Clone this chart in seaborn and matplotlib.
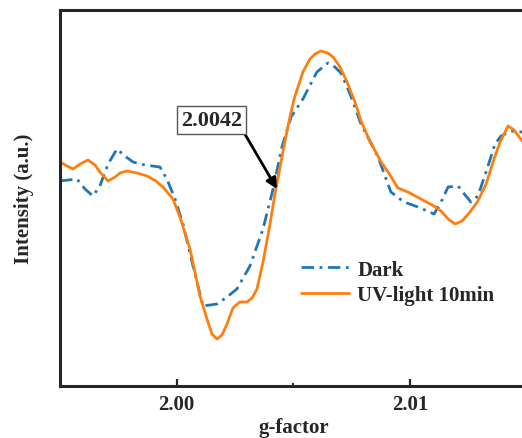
import numpy as np
import pandas as pd
import seaborn as sns
import matplotlib
matplotlib.use("Agg")
import matplotlib.pyplot as plt
from matplotlib.ticker import FixedLocator

# ---- data ----
g_uv = [1.99500, 1.99530, 1.99556, 1.99586, 1.99620, 1.99650, 1.99671, 1.99706, 1.99736, 1.99757,
        1.99787, 1.99830, 1.99873, 1.99911, 1.99941, 1.99984, 2.00014, 2.00057, 2.00100, 2.00130,
        2.00151, 2.00173, 2.00194, 2.00216, 2.00241, 2.00271, 2.00301, 2.00323, 2.00344, 2.00370,
        2.00400, 2.00421, 2.00451, 2.00477, 2.00503, 2.00541, 2.00571, 2.00593, 2.00618, 2.00648,
        2.00670, 2.00700, 2.00730, 2.00764, 2.00790, 2.00820, 2.00846, 2.00876, 2.00906, 2.00948,
        2.00991, 2.01047, 2.01103, 2.01133, 2.01163, 2.01193, 2.01223, 2.01257, 2.01291, 2.01326,
        2.01360, 2.01386, 2.01420, 2.01446, 2.01480]
i_uv = [37, 33, 30, 35, 39, 34, 27, 18, 22, 26,
        28, 26, 23, 18, 12, 0, -18, -50, -97, -120,
        -135, -140, -136, -125, -109, -103, -103, -99, -90, -63,
        -25, 5, 42, 73, 100, 127, 140, 145, 148, 146,
        142, 132, 117, 97, 78, 62, 50, 37, 27, 11,
        7, 0, -7, -12, -20, -25, -22, -13, -2, 15,
        40, 57, 73, 69, 58]

g_dark = [1.99500, 1.99573, 1.99607, 1.99641, 1.99671, 1.99706, 1.99744, 1.99778, 1.99813, 1.99864,
          1.99928, 1.99958, 1.99993, 2.00027, 2.00070, 2.00113, 2.00143, 2.00173, 2.00216, 2.00258,
          2.00314, 2.00370, 2.00413, 2.00451, 2.00490, 2.00541, 2.00601, 2.00648, 2.00678, 2.00704,
          2.00743, 2.00790, 2.00863, 2.00918, 2.00974, 2.01034, 2.01103, 2.01133, 2.01163, 2.01206,
          2.01236, 2.01261, 2.01291, 2.01330, 2.01364, 2.01390, 2.01433, 2.01480]
i_dark = [18, 20, 10, 3, 13, 35, 50, 43, 37, 34,
          32, 20, 0, -25, -67, -107, -106, -105, -98, -90,
          -67, -30, 10, 52, 82, 100, 127, 136, 132, 126,
          105, 75, 42, 7, -3, -8, -15, -3, 12, 13,
          4, -3, 3, 30, 55, 63, 68, 67]

series_names = ["Dark", "UV-light 10min"]
x_ticks = [2.00, 2.01]
x_tick_labels = ["2.00", "2.01"]
peak_label = "2.0042"
peak_g = 2.0043
peak_i = 10

df = pd.concat([
    pd.DataFrame({"g": g_dark, "I": i_dark, "sample": series_names[0]}),
    pd.DataFrame({"g": g_uv, "I": i_uv, "sample": series_names[1]}),
], ignore_index=True)

sns.set_style("ticks")
plt.rcParams["font.family"] = ["Liberation Serif", "DejaVu Serif"]
plt.rcParams["font.weight"] = "bold"
plt.rcParams["axes.labelweight"] = "bold"

fig = plt.figure(figsize=(5.22, 4.39), dpi=100)
ax = fig.add_axes([60 / 522, 1 - 387 / 439, (526.7 - 60) / 522, (387 - 11) / 439])

sns.lineplot(data=df, x="g", y="I", hue="sample", style="sample", ax=ax,
             palette={"Dark": "#1f77b4", "UV-light 10min": "#ff7f0e"},
             dashes={"Dark": (4.5, 2.0, 1.0, 2.0), "UV-light 10min": ""},
             linewidth=2.0, sort=False, estimator=None)
for ln in ax.lines:
    ln.set_solid_joinstyle("round")
    ln.set_dash_joinstyle("round")

ax.set_xlim(1.995, 2.015)
ax.set_ylim(-187, 189)
ax.xaxis.set_major_locator(FixedLocator(x_ticks))
ax.set_xticklabels(x_tick_labels, fontsize=15, fontweight="bold")
ax.xaxis.set_minor_locator(FixedLocator([2.005]))
ax.tick_params(axis="x", which="major", direction="in", length=5, width=1.6, pad=6)
ax.tick_params(axis="x", which="minor", direction="in", length=2.5, width=1.4)
ax.set_yticks([])
for s in ax.spines.values():
    s.set_linewidth(2.2)

ax.set_xlabel("g-factor", fontsize=15, fontweight="bold", labelpad=2)
ax.set_ylabel("Intensity (a.u.)", fontsize=15, fontweight="bold", labelpad=19)

ax.annotate(peak_label, xy=(peak_g, peak_i), xytext=(2.00151, 79), textcoords="data",
            fontsize=16, fontweight="bold", ha="center", va="center",
            bbox=dict(boxstyle="square,pad=0.18", fc="white", ec="#555555", lw=1.0),
            arrowprops=dict(arrowstyle="-|>", color="black", lw=2.0, mutation_scale=16,
                            relpos=(1.0, 0.0), shrinkA=0, shrinkB=0))

leg = ax.legend(loc="upper left", bbox_to_anchor=(301 / 522, 1 - 260.5 / 439),
                bbox_transform=fig.transFigure, frameon=False, borderpad=0,
                borderaxespad=0, handlelength=2.3, handletextpad=0.4, labelspacing=0.28,
                prop={"size": 15, "weight": "bold"}, title=None)
for line in leg.get_lines():
    line.set_linewidth(2.0)

fig.savefig("out.png", dpi=100)
